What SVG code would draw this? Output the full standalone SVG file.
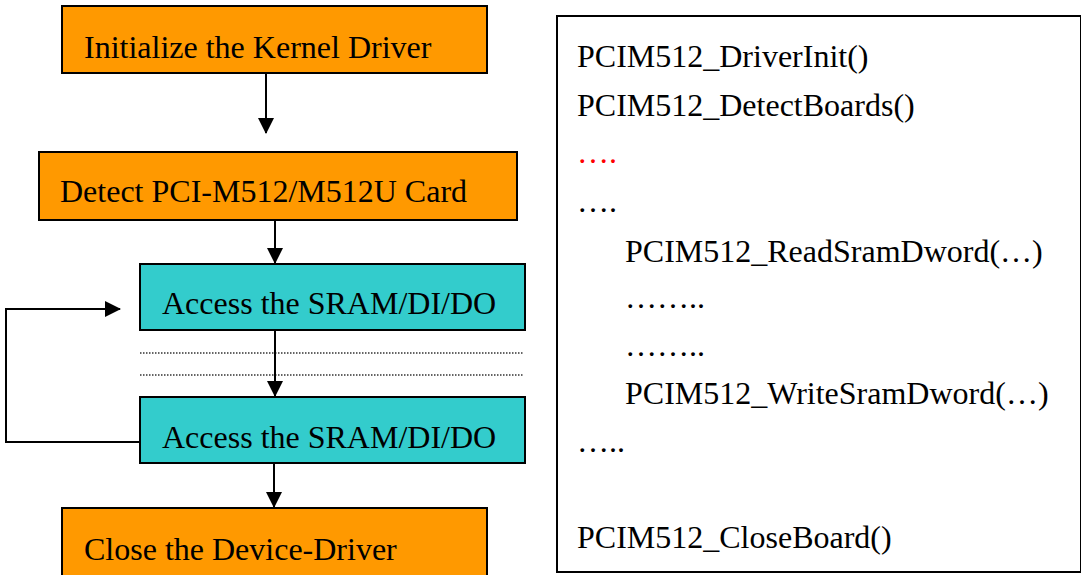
<svg xmlns="http://www.w3.org/2000/svg" width="1081" height="575" viewBox="0 0 1081 575">
<defs>
<marker id="ah" markerUnits="userSpaceOnUse" markerWidth="16" markerHeight="16" refX="15" refY="8" orient="auto" viewBox="0 0 16 16">
<path d="M0,0 L16,8 L0,16 z" fill="#000"/>
</marker>
<style>
.orange{fill:#FF9900;stroke:#000;stroke-width:2}
.cyan{fill:#33CCCC;stroke:#000;stroke-width:2}
.lbl{font-family:"Liberation Serif","Times New Roman",serif;font-size:32px;fill:#000}
.code{font-family:"Liberation Serif","Times New Roman",serif;font-size:32px;fill:#000}
.red{fill:#FF0000}
.conn{fill:none;stroke:#000;stroke-width:2}
.dot{fill:none;stroke:#333;stroke-width:1.5;stroke-dasharray:1.5 1.5}
</style>
</defs>
<rect width="1081" height="575" fill="#fff"/>
<g id="node-init">
<rect class="orange" x="62" y="6" width="425" height="67"/>
<text class="lbl" x="84" y="58">Initialize the Kernel Driver</text>
</g>
<g id="node-detect">
<rect class="orange" x="39" y="152" width="478" height="68"/>
<text class="lbl" x="60" y="202">Detect PCI-M512/M512U Card</text>
</g>
<g id="node-access1">
<rect class="cyan" x="140" y="264" width="385" height="66"/>
<text class="lbl" x="162" y="314">Access the SRAM/DI/DO</text>
</g>
<g id="node-access2">
<rect class="cyan" x="140" y="397" width="385" height="66"/>
<text class="lbl" x="162" y="448">Access the SRAM/DI/DO</text>
</g>
<g id="node-close">
<rect class="orange" x="62" y="508" width="425" height="80"/>
<text class="lbl" x="84" y="560">Close the Device-Driver</text>
</g>
<g id="separators">
<line class="dot" x1="140" y1="353" x2="523" y2="353"/>
<line class="dot" x1="140" y1="375" x2="523" y2="375"/>
</g>
<g id="connectors">
<line class="conn" x1="266" y1="73" x2="266" y2="133" marker-end="url(#ah)"/>
<line class="conn" x1="275" y1="220" x2="275" y2="263" marker-end="url(#ah)"/>
<line class="conn" x1="275" y1="330" x2="275" y2="396" marker-end="url(#ah)"/>
<line class="conn" x1="274" y1="463" x2="274" y2="507" marker-end="url(#ah)"/>
<polyline class="conn" points="140,442 6,442 6,309 120,309" marker-end="url(#ah)"/>
</g>
<g id="node-code">
<rect x="557" y="16" width="524" height="556" fill="#fff" stroke="#000" stroke-width="2"/>
<text class="code" x="577" y="67">PCIM512_DriverInit()</text>
<text class="code" x="577" y="116">PCIM512_DetectBoards()</text>
<text class="code red" x="577" y="163">….</text>
<text class="code" x="577" y="212">….</text>
<text class="code" x="625" y="262">PCIM512_ReadSramDword(…)</text>
<text class="code" x="625" y="308">……..</text>
<text class="code" x="625" y="356">……..</text>
<text class="code" x="625" y="404">PCIM512_WriteSramDword(…)</text>
<text class="code" x="577" y="452">…..</text>
<text class="code" x="577" y="548">PCIM512_CloseBoard()</text>
</g>
</svg>
